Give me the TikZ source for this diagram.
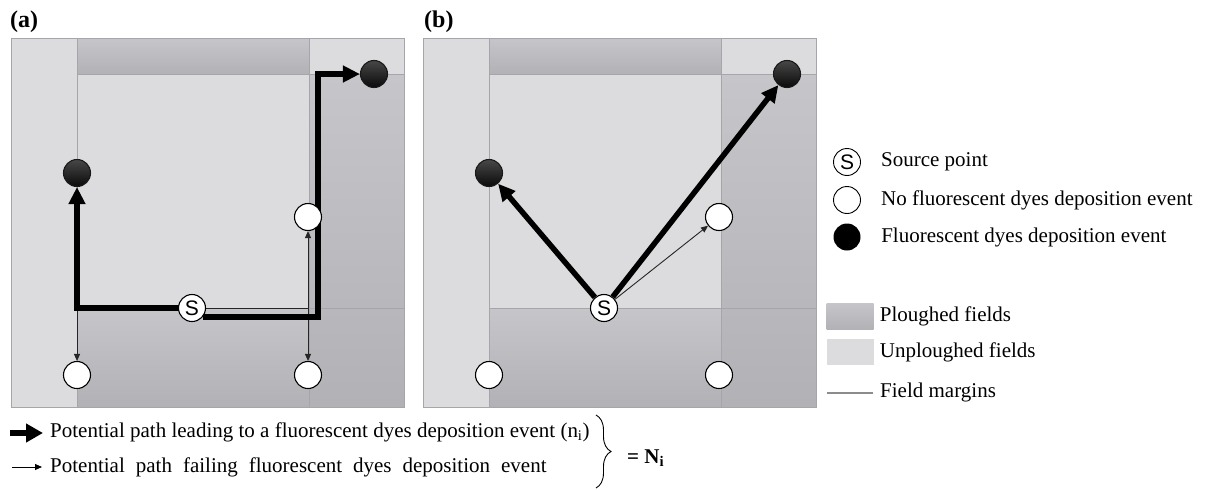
\documentclass[tikz,border=0pt]{standalone}
\usepackage{fontspec}
\setmainfont{Liberation Serif}
\newfontfamily\sfS{Liberation Sans}
\usetikzlibrary{arrows.meta,positioning,decorations.pathreplacing,calc}

\definecolor{ploughA}{HTML}{C6C6CA}
\definecolor{ploughB}{HTML}{B2B2B6}
\definecolor{unplough}{HTML}{DCDCDE}
\definecolor{marginc}{HTML}{A6A6AA}

\pgfdeclarelayer{fields}
\pgfdeclarelayer{paths}
\pgfsetlayers{fields,paths,main}

\tikzset{
  plough/.style={top color=ploughA, bottom color=ploughB},
  unploughed/.style={fill=unplough},
  margin/.style={draw=marginc, line width=0.9pt},
  dot/.style={circle, minimum size=27pt, inner sep=0pt, line width=1.1pt},
  whitedot/.style={dot, draw=black, fill=white},
  blackdot/.style={dot, draw=black!90, top color=black!72, bottom color=black!96},
  srcdot/.style={whitedot, font=\sfS\fontsize{21}{21}\selectfont},
  thickpath/.style={line width=5.5pt, -{Triangle[length=17pt,width=16pt]}},
  thinpath/.style={line width=0.9pt, black!85, -{Triangle[length=7pt,width=6pt]}},
  legtext/.style={inner sep=0pt, anchor=west, font=\fontsize{21}{24}\selectfont},
  panellabel/.style={inner sep=0pt, anchor=west, font=\bfseries\fontsize{24}{24}\selectfont},
}

\begin{document}
\begin{tikzpicture}[x=1pt, y=-1pt]
\useasboundingbox (0,0) rectangle (1205,490);

% field backgrounds, one per panel
\begin{pgfonlayer}{fields}
\foreach \px in {0,412}{
  \begin{scope}[xshift=\px pt]
    \fill[unploughed] (11,38) rectangle (404,407);
    \fill[plough] (77,38) rectangle (309,74);
    \fill[plough] (309,74) rectangle (404,407);
    \fill[plough] (77,308) rectangle (309,407);
    \draw[margin] (11,38) rectangle (404,407);
    \draw[margin] (77,38) -- (77,407);
    \draw[margin] (309,38) -- (309,407);
    \draw[margin] (77,74) -- (404,74);
    \draw[margin] (77,308) -- (404,308);
  \end{scope}
}
\end{pgfonlayer}

\node[panellabel] (la) at (10,22) {(a)};
\node[panellabel] (lb) at (424,22) {(b)};

% panel (a)
\node[srcdot] (Sa) at (192,308) {S};
\node[blackdot] (ba1) at (77,173) {};
\node[blackdot] (ba2) at (374,74) {};
\node[whitedot] (wa1) at (308,217) {};
\node[whitedot] (wa2) at (77,375) {};
\node[whitedot] (wa3) at (308,375) {};

\coordinate (ja1) at (ba1 |- Sa);
\coordinate (ja2) at (wa1 |- Sa);
\coordinate (ka) at (318,316);

\begin{pgfonlayer}{paths}
\draw[thinpath, -] (Sa.east) -- (ja2);
\draw[thinpath] (ja2) -- (wa1);
\draw[thinpath] (ja2) -- (wa3);
\draw[thinpath] (ja1) -- (wa2);
\draw[thickpath] (Sa.west) -| (ba1);
\draw[thickpath] (Sa.-40) -- (Sa.-40 -| ka) |- (ba2.west);
\end{pgfonlayer}

% panel (b)
\node[srcdot] (Sb) at (604,308) {S};
\node[blackdot] (bb1) at (489,173) {};
\node[blackdot] (bb2) at (787,74) {};
\node[whitedot] (wb1) at (719,217) {};
\node[whitedot] (wb2) at (489,375) {};
\node[whitedot] (wb3) at (719,375) {};

\begin{pgfonlayer}{paths}
\draw[thinpath] (Sb) -- (wb1);
\draw[thickpath] (Sb) -- (bb1);
\draw[thickpath] (Sb) -- (bb2);
\end{pgfonlayer}

% legend, right
\node[srcdot, line width=0.9pt] (lgS) at (847,162) {S};
\node[whitedot, line width=0.9pt] (lgW) at (847,200) {};
\node[dot, fill=black] (lgB) at (847,237) {};
\node[legtext, right=20pt of lgS] (tS) {Source point};
\node[legtext, right=20pt of lgW] (tW) {No fluorescent dyes deposition event};
\node[legtext, right=20pt of lgB] (tB) {Fluorescent dyes deposition event};

\node[plough, minimum width=47pt, minimum height=26pt, inner sep=0pt] (lgP) at (850,316) {};
\node[unploughed, minimum width=47pt, minimum height=26pt, inner sep=0pt] (lgU) at (850,352) {};
\coordinate (lgM1) at (827,393);
\coordinate (lgM2) at (873,393);
\draw[draw=black!45, line width=2.6pt] (lgM1) -- (lgM2);
\node[legtext, right=6pt of lgP] (tP) {Ploughed fields};
\node[legtext, right=6pt of lgU] (tU) {Unploughed fields};
\node[legtext] (tM) at (880,392) {Field margins};

% legend, bottom
\coordinate (pa1) at (10,433);
\coordinate (pa2) at (43,433);
\coordinate (pb1) at (12,467);
\coordinate (pb2) at (42,467);
\draw[line width=6pt, -{Triangle[length=17pt,width=18pt]}] (pa1) -- (pa2);
\draw[thinpath, black] (pb1) -- (pb2);
\node[legtext] (t1) at (50,432) {Potential path leading to a fluorescent dyes deposition event (n\textsubscript{i})};
\node[legtext] (t2) at (50,467) {\spaceskip=11pt Potential path failing fluorescent dyes deposition event};
\coordinate (br1) at (596,415);
\coordinate (br2) at (596,488);
\draw[line width=0.9pt, decorate, decoration={brace, amplitude=15pt}] (br1) -- (br2);
\node[legtext] (tN) at (627,458) {\textbf{= N}\textsubscript{\textbf{i}}};
\end{tikzpicture}
\end{document}
